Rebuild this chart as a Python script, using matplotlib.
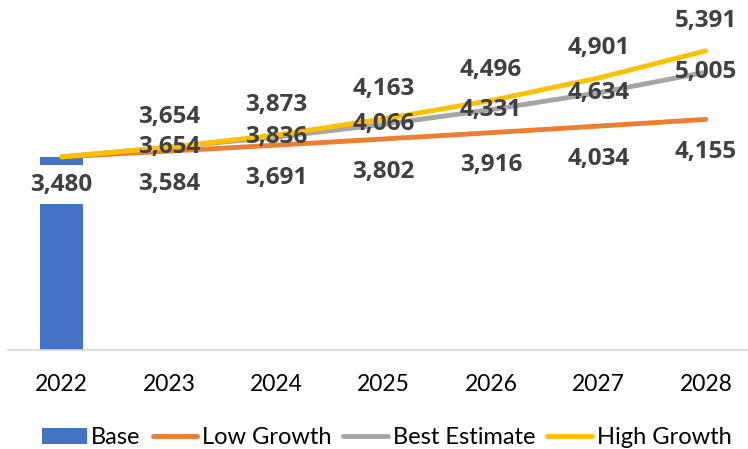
import numpy as np
import matplotlib.pyplot as plt

# Población proyectada por escenario
years = ['2022', '2023', '2024', '2025', '2026', '2027', '2028']
base = [3480]
low_growth = [3480, 3584, 3691, 3802, 3916, 4034, 4155]
best_estimate = [3480, 3654, 3836, 4066, 4331, 4634, 5005]
high_growth = [3480, 3654, 3873, 4163, 4496, 4901, 5391]

label_color = '#404040'
label_font = dict(family='Open Sans', fontweight='bold', fontsize=17.5, color=label_color)

fig = plt.figure(figsize=(7.48, 4.49), dpi=100)
ax = fig.add_axes([8 / 748, 99 / 449, 751.5 / 748, 333 / 449])

x = np.arange(len(years))

# Barra base (solo 2022)
bar = ax.bar(x[:len(base)], base, width=0.4, color='#4472C4', label='Base', zorder=2)

l1, = ax.plot(x, low_growth, color='#ED7D31', lw=3.5, solid_capstyle='round', label='Low Growth', zorder=3)
l2, = ax.plot(x, best_estimate, color='#A5A5A5', lw=3.5, solid_capstyle='round', label='Best Estimate', zorder=4)
l3, = ax.plot(x, high_growth, color='#FFC000', lw=3.5, solid_capstyle='round', label='High Growth', zorder=5)

# Etiquetas de datos
ax.annotate(f'{base[0]:,}', (x[0], base[0]), xytext=(0, -20), textcoords='offset points',
            ha='center', va='center', zorder=6,
            bbox=dict(boxstyle='square,pad=0.3', fc='white', ec='none'), **label_font)
for i in range(1, len(years)):
    ax.annotate(f'{low_growth[i]:,}', (x[i], low_growth[i]), xytext=(0, -23.5), textcoords='offset points',
                ha='center', va='center', zorder=6, **label_font)
    ax.annotate(f'{best_estimate[i]:,}', (x[i], best_estimate[i]), xytext=(0, 0), textcoords='offset points',
                ha='center', va='center', zorder=6, **label_font)
    ax.annotate(f'{high_growth[i]:,}', (x[i], high_growth[i]), xytext=(0, 21.6), textcoords='offset points',
                ha='center', va='center', zorder=6, **label_font)

ax.set_xlim(-0.5, 6.5)
ax.set_ylim(0, 6000)
ax.set_xticks(x)
ax.set_xticklabels(years, family='Lato', fontsize=16.5, color='black')
ax.tick_params(axis='x', length=0, pad=17)
ax.set_yticks([])
for side in ['top', 'right', 'left']:
    ax.spines[side].set_visible(False)
ax.spines['bottom'].set_color('#D9D9D9')
ax.spines['bottom'].set_linewidth(1.2)

fig.legend(handles=[bar, l1, l2, l3], loc='center', bbox_to_anchor=(0.517, 0.025), ncol=4, frameon=False,
           prop=dict(family='Lato', size=17), handlelength=1.9, handletextpad=0.2,
           columnspacing=0.5, borderpad=0, borderaxespad=0)

fig.savefig('out.png', dpi=100)
